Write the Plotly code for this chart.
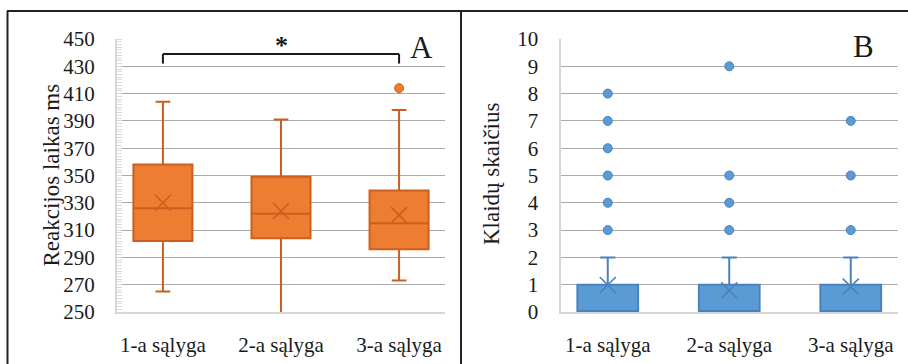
import plotly.graph_objects as go

# ---------------- data ----------------
categories = ["1-a sąlyga", "2-a sąlyga", "3-a sąlyga"]

# Panel A: reaction time (ms)
rt_q1 = [302, 304, 296]
rt_median = [326, 322, 315]
rt_q3 = [358, 349, 339]
rt_lower = [265, 249, 273]
rt_upper = [404, 391, 398]
rt_mean = [330, 324, 321]
rt_outlier_x = ["3-a sąlyga"]
rt_outlier_y = [414]
rt_ticks = list(range(250, 451, 20))

# significance bracket between condition 1 and 3
sig_from = "1-a sąlyga"
sig_to = "3-a sąlyga"
sig_label_x = "2-a sąlyga"
sig_top = 439
sig_bottom = 432
sig_label_y = 445

# Panel B: error count
err_q1 = [0, 0, 0]
err_median = [0, 0, 0]
err_q3 = [1, 1, 1]
err_lower = [0, 0, 0]
err_upper = [2, 2, 2]
err_mean = [0.99, 0.79, 0.93]
err_outlier_x = ["1-a sąlyga"] * 6 + ["2-a sąlyga"] * 4 + ["3-a sąlyga"] * 3
err_outlier_y = [3, 4, 5, 6, 7, 8, 3, 4, 5, 9, 3, 5, 7]
err_ticks = list(range(0, 11))

# ---------------- style ----------------
W, H = 908, 364
FONT = "Liberation Serif"
TXT = "#1a1a1a"
ORANGE = "#ED7D31"
ORANGE_D = "#C9601F"
BLUE = "#5B9BD5"
BLUE_D = "#4A82BD"
GRID = "#ababab"
AXLINE = "#d6d6d6"

def px_x(p):
    return p / W

def px_y(p):
    return (H - p) / H

fig = go.Figure()

# Panel A box
fig.add_trace(go.Box(
    x=categories, q1=rt_q1, median=rt_median, q3=rt_q3,
    lowerfence=rt_lower, upperfence=rt_upper,
    fillcolor=ORANGE, line=dict(color=ORANGE_D, width=2),
    width=0.5, whiskerwidth=0.25, boxpoints=False,
    xaxis="x", yaxis="y", showlegend=False, hoverinfo="skip",
))
fig.add_trace(go.Scatter(
    x=categories, y=rt_mean, mode="markers",
    marker=dict(symbol="x-thin", size=16, line=dict(color=ORANGE_D, width=1.6)),
    xaxis="x", yaxis="y", showlegend=False, hoverinfo="skip",
))
fig.add_trace(go.Scatter(
    x=rt_outlier_x, y=rt_outlier_y, mode="markers",
    marker=dict(symbol="circle", size=9, color=ORANGE, line=dict(color=ORANGE_D, width=1)),
    xaxis="x", yaxis="y", showlegend=False, hoverinfo="skip",
))

# Panel B box
fig.add_trace(go.Box(
    x=categories, q1=err_q1, median=err_median, q3=err_q3,
    lowerfence=err_lower, upperfence=err_upper,
    fillcolor=BLUE, line=dict(color=BLUE_D, width=2),
    width=0.5, whiskerwidth=0.25, boxpoints=False,
    xaxis="x2", yaxis="y2", showlegend=False, hoverinfo="skip",
))
fig.add_trace(go.Scatter(
    x=categories, y=err_mean, mode="markers",
    marker=dict(symbol="x-thin", size=16, line=dict(color=BLUE_D, width=1.6)),
    xaxis="x2", yaxis="y2", showlegend=False, hoverinfo="skip",
))
fig.add_trace(go.Scatter(
    x=err_outlier_x, y=err_outlier_y, mode="markers",
    marker=dict(symbol="circle", size=9, color=BLUE, line=dict(color=BLUE_D, width=1)),
    xaxis="x2", yaxis="y2", showlegend=False, hoverinfo="skip",
))

ydom = [px_y(312), px_y(39)]
tickfont = dict(family=FONT, size=21, color=TXT)

common_x = dict(
    type="category", categoryorder="array", categoryarray=categories,
    showgrid=False, showline=True, linecolor=AXLINE, linewidth=2,
    ticks="", tickfont=tickfont, ticklabelstandoff=13, fixedrange=True,
    automargin=False,
)

fig.update_layout(
    width=W, height=H, autosize=False,
    margin=dict(l=0, r=0, t=0, b=0, pad=0),
    paper_bgcolor="white", plot_bgcolor="white",
    font=dict(family=FONT, color=TXT),
    xaxis=dict(common_x, domain=[px_x(117), px_x(445)], anchor="y"),
    yaxis=dict(
        domain=ydom, range=[250, 450], tickvals=rt_ticks,
        showgrid=True, gridcolor=GRID, gridwidth=1,
        showline=True, linecolor=AXLINE, linewidth=2, zeroline=False,
        ticks="", tickfont=tickfont, ticklabelstandoff=16,
        minor=dict(dtick=2, ticks="inside", ticklen=5, tickcolor="#dcdcdc", tickwidth=1, showgrid=False),
        anchor="x", fixedrange=True, automargin=False,
    ),
    xaxis2=dict(common_x, domain=[px_x(560.5), px_x(898)], anchor="y2"),
    yaxis2=dict(
        domain=ydom, range=[0, 10], tickvals=err_ticks,
        showgrid=True, gridcolor=GRID, gridwidth=1,
        showline=True, linecolor=AXLINE, linewidth=2, zeroline=False,
        ticks="", tickfont=tickfont, ticklabelstandoff=16,
        anchor="x2", fixedrange=True, automargin=False,
    ),
)

# significance bracket
bracket = dict(color="#1a1a1a", width=2)
fig.add_shape(type="line", xref="x", yref="y", x0=sig_from, x1=sig_to, y0=sig_top, y1=sig_top, line=bracket)
fig.add_shape(type="line", xref="x", yref="y", x0=sig_from, x1=sig_from, y0=sig_bottom, y1=sig_top, line=bracket)
fig.add_shape(type="line", xref="x", yref="y", x0=sig_to, x1=sig_to, y0=sig_bottom, y1=sig_top, line=bracket)
fig.add_annotation(x=sig_label_x, y=sig_label_y, xref="x", yref="y", text="<b>*</b>",
                   showarrow=False, font=dict(family=FONT, size=26, color=TXT))

# axis titles
fig.add_annotation(x=px_x(37), y=px_y(175), xref="paper", yref="paper",
                   text="Reakcijos laikas ms", textangle=-90, showarrow=False,
                   font=dict(family=FONT, size=23, color=TXT))
fig.add_annotation(x=px_x(491), y=px_y(174), xref="paper", yref="paper",
                   text="Klaidų skaičius", textangle=-90, showarrow=False,
                   font=dict(family=FONT, size=23, color=TXT))

# panel letters
fig.add_annotation(x=px_x(421), y=px_y(28), xref="paper", yref="paper", text="A",
                   showarrow=False, font=dict(family=FONT, size=31, color=TXT))
fig.add_annotation(x=px_x(876), y=px_y(27), xref="paper", yref="paper", text="B",
                   showarrow=False, font=dict(family=FONT, size=31, color=TXT))

# frame lines
frame = dict(color="#222222", width=2)
fig.add_shape(type="line", xref="paper", yref="paper", x0=px_x(7), x1=1, y0=px_y(11), y1=px_y(11), line=frame)
fig.add_shape(type="line", xref="paper", yref="paper", x0=px_x(7.5), x1=px_x(7.5), y0=0, y1=px_y(11), line=frame)
fig.add_shape(type="line", xref="paper", yref="paper", x0=px_x(461), x1=px_x(461), y0=0, y1=px_y(11), line=frame)

fig.write_html(
    "out.html",
    config={"responsive": False, "displayModeBar": False, "staticPlot": True},
)
